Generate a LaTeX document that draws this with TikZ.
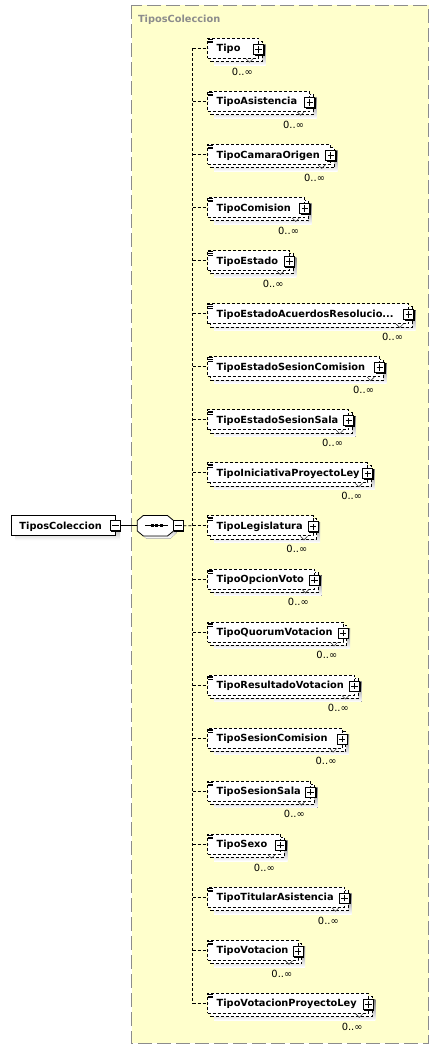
\documentclass[tikz,border=0pt]{standalone}
\usepackage{fontspec}
\setmainfont{DejaVu Sans}
\usetikzlibrary{calc}
\definecolor{grpfill}{HTML}{FFFFCC}
\definecolor{grpline}{HTML}{8C8C8C}
\definecolor{shade}{HTML}{C0C0C0}
\definecolor{titlegrey}{HTML}{8C8C8C}
\newcommand\eltrunc{...}
\tikzset{
  elemfont/.style={font=\bfseries\fontsize{9.8}{12}\selectfont},
  multfont/.style={font=\fontsize{9.9}{12}\selectfont},
  frontbox/.style={draw=black, fill=white, dash pattern=on 3pt off 2pt, line width=0.8pt, inner sep=0pt, outer sep=0pt},
  backbox/.style={draw=black, fill=white, dash pattern=on 3pt off 2pt, line width=0.8pt},
  conn/.style={draw=black, dash pattern=on 3pt off 2pt, line width=0.8pt},
  solidconn/.style={draw=black, line width=0.8pt},
  expbox/.style={draw=black, fill=white, line width=0.8pt, minimum width=10pt, minimum height=10pt, inner sep=0pt, outer sep=0pt},
  plussign/.style={path picture={\draw[line width=0.8pt] ([xshift=-3.2pt]path picture bounding box.center) -- ([xshift=3.2pt]path picture bounding box.center); \draw[line width=0.8pt] ([yshift=-3.2pt]path picture bounding box.center) -- ([yshift=3.2pt]path picture bounding box.center);}},
  minussign/.style={path picture={\draw[line width=0.8pt] ([xshift=-3.2pt]path picture bounding box.center) -- ([xshift=3.2pt]path picture bounding box.center);}},
}
\begin{document}
\begin{tikzpicture}[x=1pt,y=-1pt]
\useasboundingbox (0,0) rectangle (440,1050);
% group box
\path[fill=grpfill, draw=grpline, dash pattern=on 14pt off 5pt, line width=1pt] (131.5,5) rectangle (428.5,1043.3);
\node[anchor=base west, inner sep=0pt, text=titlegrey, elemfont] (title) at (137.8,22.7) {TiposColeccion};

% root element
\fill[shade] (15.5,520.3) rectangle (120,540.3);
\node[draw=black, fill=white, line width=0.8pt, minimum width=104.3pt, minimum height=20pt, inner sep=0pt, outer sep=0pt, anchor=west] (root) at (11,525.8) {};
\node[anchor=base west, inner sep=0pt, elemfont] (roottext) at (19.3,529.6) {TiposColeccion};
\fill[black] (111.3,522) rectangle (121.3,532);
\node[expbox, minussign] (rm) at (115.3,525.8) {};

% sequence compositor
\fill[shade] (140.3,518) -- (146.3,518) -- (170.5,518) -- (176.5,523.5) -- (176.5,533) -- (170.5,538.5) -- (146.3,538.5) -- (140.3,533) -- cycle;
\node[minimum width=36pt, minimum height=20.5pt, inner sep=0pt, outer sep=0pt] (seq) at (155.4,525.8) {};
\draw[fill=white, line width=0.8pt] (137.3,520.5) -- (143.3,515.5) -- (167.5,515.5) -- (173.5,520.5) -- (173.5,531) -- (167.5,536) -- (143.3,536) -- (137.3,531) -- cycle;
\draw[line width=0.8pt] (145.3,525.8) -- (168,525.8);
\foreach \dx in {152.3,156.8,161.3} {\fill[black] (\dx-1.4,524.4) rectangle (\dx+1.4,527.2);}
\fill[black] (174.3,522) rectangle (184.3,532);
\node[expbox, minussign] (sm) at (178.3,525.8) {};

\draw[solidconn] (rm.east) -- (seq.west);

% elements
\foreach \i/\nm/\P in {
  0/Tipo/258.5,
  1/TipoAsistencia/309.7,
  2/TipoCamaraOrigen/330.7,
  3/TipoComision/304.7,
  4/TipoEstado/289.3,
  5/TipoEstadoAcuerdosResolucio\eltrunc/408.7,
  6/TipoEstadoSesionComision/379.7,
  7/TipoEstadoSesionSala/348.7,
  8/TipoIniciativaProyectoLey/367.8,
  9/TipoLegislatura/313,
  10/TipoOpcionVoto/314.5,
  11/TipoQuorumVotacion/343,
  12/TipoResultadoVotacion/354.5,
  13/TipoSesionComision/342.2,
  14/TipoSesionSala/310.5,
  15/TipoSexo/280.5,
  16/TipoTitularAsistencia/344.5,
  17/TipoVotacion/298,
  18/TipoVotacionProyectoLey/368.3} {
  \pgfmathsetmacro\yc{48.3+53.06*\i}
  \pgfmathsetmacro\w{\P-207.5}
  \coordinate (v\i) at (192.5,\yc);
  % shadow and back copy
  \fill[shade] (214,\yc-3.5) rectangle (\P+7,\yc+16.8);
  \path[backbox] (210.8,\yc-7) rectangle (\P+3.6,\yc+13.3);
  % front box
  \node[frontbox, anchor=west, minimum width=\w pt, minimum height=20pt] (e\i) at (207.5,\yc) {};
  % icon
  \foreach \k in {0,1.6,3.2} {\draw[line width=0.45pt] (208.4,\yc-9.0+\k) -- (212.6,\yc-9.0+\k);}
  % text
  \node[anchor=base west, inner sep=0pt, elemfont] (t\i) at (216.5,\yc+3.6) {\nm};
  % plus box
  \fill[black] (\P-4,\yc-3.3) rectangle (\P+6,\yc+7.2);
  \node[expbox, plussign] (p\i) at (\P,\yc+1) {};
  % notch
  \draw[line width=0.6pt, black!70] (\P-12.5,\yc+10.5) -- (\P-9,\yc+14) -- (\P-5.5,\yc+10.5);
  % multiplicity
  \node[anchor=base east, inner sep=0pt, multfont] (m\i) at (\P-5.5,\yc+26.8) {0..∞};
  % connector
  \draw[conn] (v\i) -- (e\i.west);
}
\draw[conn] (v0) -- (v18);
\draw[conn] (sm.east) -- (v9);
\end{tikzpicture}
\end{document}
